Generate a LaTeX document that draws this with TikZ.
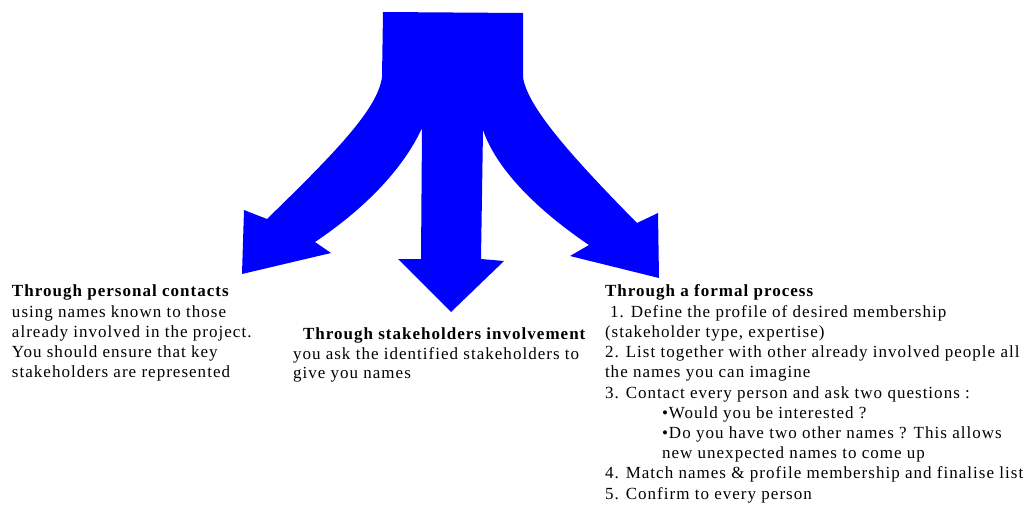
\documentclass[tikz,border=0pt]{standalone}
\usepackage{fontspec}
\setmainfont{Liberation Serif}[LetterSpace=6]
\definecolor{arrowblue}{RGB}{0,0,255}
\tikzset{
  txt/.style={anchor=base west, inner sep=0pt, outer sep=0pt, font=\fontsize{17}{20.3}\selectfont, text=black},
  hd/.style={txt, font=\fontsize{17}{20.3}\selectfont\bfseries}
}
\begin{document}
\begin{tikzpicture}[x=1pt,y=-1pt]
\useasboundingbox (0,0) rectangle (1031,506);
% three-way arrow
\fill[arrowblue]
  (383,12) -- (523,13) -- (523,77)
  .. controls (527,105) and (565,150) .. (637,223)
  -- (658,213) -- (659,278) -- (570,256) -- (589,245)
  .. controls (530,205) and (495,165) .. (483,130)
  -- (481,259) -- (504,261) -- (451,312) -- (398,259) -- (421,259) -- (422,128)
  .. controls (405,165) and (370,205) .. (315,242)
  -- (331,253) -- (242,274) -- (244,210) -- (267,219)
  .. controls (338,150) and (378,108) .. (382,77)
  -- cycle;
% left block
\node[hd]  (l1) at (12,296) {Through personal contacts};
\node[txt] (l2) at (12,317) {using names known to those};
\node[txt] (l3) at (12,337) {already involved in the project.};
\node[txt] (l4) at (12,357) {You should ensure that key};
\node[txt] (l5) at (12,377) {stakeholders are represented};
% middle block
\node[hd]  (m1) at (303,339) {Through stakeholders involvement};
\node[txt] (m2) at (293,359) {you ask the identified stakeholders to};
\node[txt] (m3) at (293,378) {give you names};
% right block
\node[hd]  (r1)  at (605,296) {Through a formal process};
\node[txt] (r2)  at (610,317) {1. Define the profile of desired membership};
\node[txt] (r3)  at (605,337) {(stakeholder type, expertise)};
\node[txt] (r4)  at (605,357) {2. List together with other already involved people all};
\node[txt] (r5)  at (605,377) {the names you can imagine};
\node[txt] (r6)  at (605,398) {3. Contact every person and ask two questions :};
\node[txt] (r7)  at (662,418) {•Would you be interested ?};
\node[txt] (r8)  at (662,438) {•Do you have two other names ? This allows};
\node[txt] (r9)  at (662,458) {new unexpected names to come up};
\node[txt] (r10) at (605,478) {4. Match names \& profile membership and finalise list};
\node[txt] (r11) at (605,499) {5. Confirm to every person};
\end{tikzpicture}
\end{document}
